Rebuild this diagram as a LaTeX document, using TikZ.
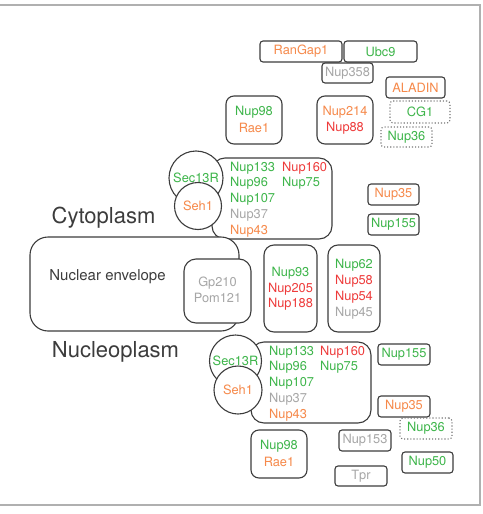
\documentclass[tikz,border=0pt]{standalone}
\usepackage{fontspec}
\setmainfont{TeX Gyre Heros}
\definecolor{cg}{HTML}{3DB54A}
\definecolor{co}{HTML}{F6894A}
\definecolor{cr}{HTML}{EE3B3B}
\definecolor{cy}{HTML}{A6A6A6}
\definecolor{bc}{HTML}{3C3C3C}
\definecolor{fc}{HTML}{B0B0B0}
\begin{document}
\begin{tikzpicture}[x=1pt,y=-1pt,
  pbox/.style={draw=bc,line width=1.1pt,rounded corners=3pt,fill=white,inner sep=0pt,font=\fontsize{12.8}{15}\selectfont},
  dbox/.style={pbox,draw=bc!70,dotted,line width=1.1pt},
  bigbox/.style={draw=bc,line width=1.1pt,rounded corners=#1,fill=white,inner sep=0pt},
  circ/.style={draw=bc,line width=1.1pt,circle,fill=white,inner sep=0pt,font=\fontsize{12.8}{15}\selectfont},
  lab/.style={inner sep=0pt,font=\fontsize{12.8}{15}\selectfont},
  title/.style={inner sep=0pt,text=bc,font=\fontsize{22}{26}\selectfont}]
\useasboundingbox (0,0) rectangle (482,514);
\draw[fc,line width=1.3pt] (0,5) -- (480,5) -- (480,505) -- (0,505);
% top
\node[pbox,minimum width=82pt,minimum height=21pt,text=co] (rangap) at (301,51.5) {RanGap1};
\node[pbox,minimum width=73pt,minimum height=21pt,text=cg] (ubc) at (380.5,51.5) {Ubc9};
\node[pbox,minimum width=51pt,minimum height=20pt,text=cy] (n358) at (347.5,73) {Nup358};
\node[pbox,minimum width=59pt,minimum height=21pt,text=co] (aladin) at (415.5,87.5) {ALADIN};
\node[dbox,minimum width=60pt,minimum height=22pt,text=cg] (cg1) at (420,112) {CG1};
\node[dbox,minimum width=51pt,minimum height=20pt,text=cg] (n36a) at (406.5,137) {Nup36};
\node[bigbox=8pt,minimum width=56pt,minimum height=48pt] (n98a) at (254,120) {};
\node[lab,text=cg] (n98at) at (254,112) {Nup98};
\node[lab,text=co] (rae1a) at (254,128) {Rae1};
\node[bigbox=8pt,minimum width=56pt,minimum height=48pt] (n214) at (345,120) {};
\node[lab,text=co] (n214t) at (345,112) {Nup214};
\node[lab,text=cr] (n88t) at (345,128) {Nup88};
% upper complex
\node[bigbox=13pt,minimum width=120pt,minimum height=81pt] (cxa) at (272,198.5) {};
\node[circ,minimum size=54pt,text=cg] (seca) at (196,178) {Sec13R};
\node[circ,minimum size=47pt,text=co] (seha) at (198,206) {Seh1};
\node[lab,anchor=west,text=cg] (a1) at (230,168) {Nup133};
\node[lab,anchor=west,text=cg] (a2) at (230,183.5) {Nup96};
\node[lab,anchor=west,text=cg] (a3) at (230,199) {Nup107};
\node[lab,anchor=west,text=cy] (a4) at (230,215) {Nup37};
\node[lab,anchor=west,text=co] (a5) at (230,231) {Nup43};
\node[lab,anchor=west,text=cr] (a6) at (282,168) {Nup160};
\node[lab,anchor=west,text=cg] (a7) at (282,183.5) {Nup75};
\node[pbox,minimum width=51pt,minimum height=21pt,text=co] (n35a) at (393.5,194.5) {Nup35};
\node[pbox,minimum width=51pt,minimum height=21pt,text=cg] (n155a) at (393.5,224.5) {Nup155};
\node[title] (cyto) at (103.5,218) {Cytoplasm};
% envelope
\node[bigbox=18pt,minimum width=209pt,minimum height=94pt] (ne) at (134.5,284) {};
\node[inner sep=0pt,text=bc,font=\fontsize{15}{18}\selectfont] (net) at (107.5,277) {Nuclear envelope};
\node[bigbox=12pt,minimum width=67pt,minimum height=64pt] (gp) at (217.5,291) {};
\node[lab,text=cy] (gpt) at (217.5,283) {Gp210};
\node[lab,text=cy] (pomt) at (217.5,298) {Pom121};
\node[bigbox=10pt,minimum width=53pt,minimum height=87pt] (n93) at (290.5,288.5) {};
\node[lab,text=cg] (n93t) at (290.5,273) {Nup93};
\node[lab,text=cr] (n205t) at (290.5,289) {Nup205};
\node[lab,text=cr] (n188t) at (290.5,304.5) {Nup188};
\node[bigbox=10pt,minimum width=52pt,minimum height=87pt] (n62) at (354,288.5) {};
\node[lab,text=cg] (n62t) at (354,265) {Nup62};
\node[lab,text=cr] (n58t) at (354,281) {Nup58};
\node[lab,text=cr] (n54t) at (354,297) {Nup54};
\node[lab,text=cy] (n45t) at (354,313) {Nup45};
\node[title] (nucleo) at (115.5,352) {Nucleoplasm};
% lower complex
\node[bigbox=13pt,minimum width=120pt,minimum height=81pt] (cxb) at (311,382.5) {};
\node[circ,minimum size=52pt,text=cg] (secb) at (235.5,361) {Sec13R};
\node[circ,minimum size=48pt,text=co] (sehb) at (238,390) {Seh1};
\node[lab,anchor=west,text=cg] (b1) at (269,352) {Nup133};
\node[lab,anchor=west,text=cg] (b2) at (269,367.5) {Nup96};
\node[lab,anchor=west,text=cg] (b3) at (269,383) {Nup107};
\node[lab,anchor=west,text=cy] (b4) at (269,399) {Nup37};
\node[lab,anchor=west,text=co] (b5) at (269,415) {Nup43};
\node[lab,anchor=west,text=cr] (b6) at (320,352) {Nup160};
\node[lab,anchor=west,text=cg] (b7) at (320,367.5) {Nup75};
\node[pbox,minimum width=52pt,minimum height=21pt,text=cg] (n155b) at (404,354.5) {Nup155};
\node[pbox,minimum width=52pt,minimum height=21pt,text=co] (n35b) at (404,406.5) {Nup35};
\node[dbox,minimum width=52pt,minimum height=21pt,text=cg] (n36b) at (426,428.5) {Nup36};
\node[pbox,minimum width=52pt,minimum height=21pt,text=cy] (n153) at (365,440.5) {Nup153};
\node[pbox,minimum width=51pt,minimum height=21pt,text=cg] (n50) at (427.5,462.5) {Nup50};
\node[pbox,minimum width=52pt,minimum height=20pt,text=cy] (tpr) at (361,476) {Tpr};
\node[bigbox=8pt,minimum width=56pt,minimum height=48pt] (n98b) at (279,454) {};
\node[lab,text=cg] (n98bt) at (279,446) {Nup98};
\node[lab,text=co] (rae1b) at (279,462) {Rae1};
\end{tikzpicture}
\end{document}
